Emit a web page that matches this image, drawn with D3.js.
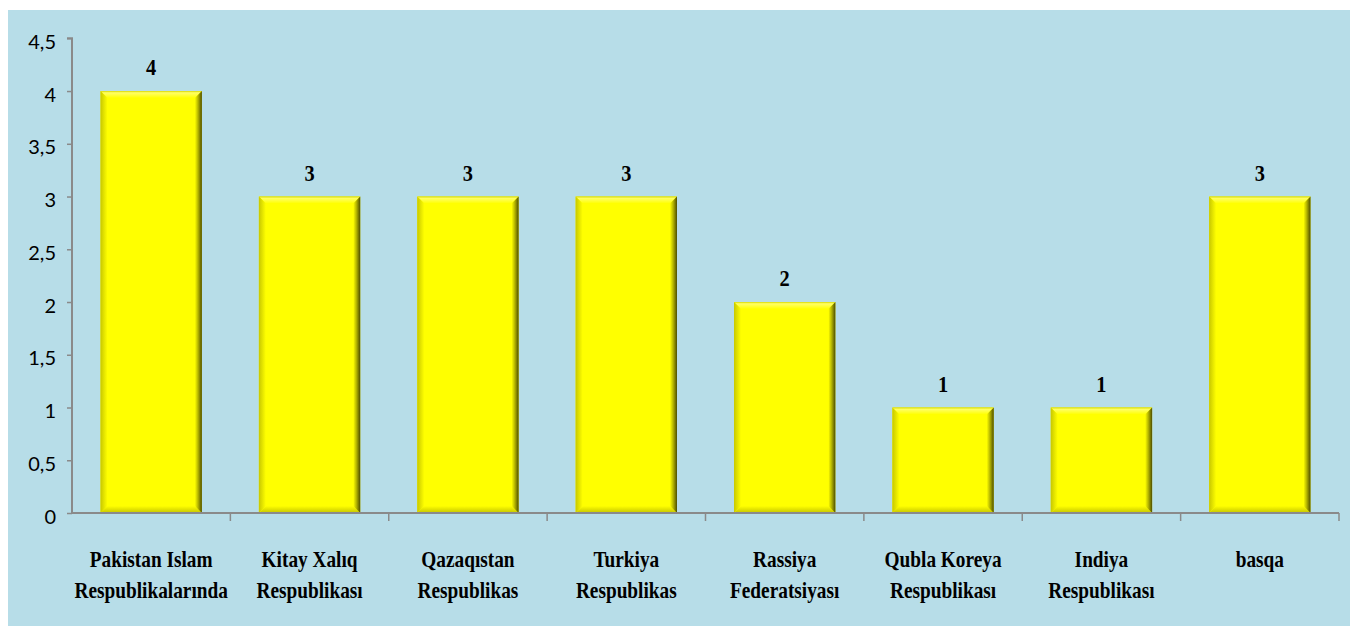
<!DOCTYPE html>
<html><head><meta charset="utf-8">
<script src="https://cdn.jsdelivr.net/npm/d3@7"></script>
<style>body{margin:0;background:#fff}</style></head>
<body><svg id="c" width="1350" height="626"></svg>
<script>
const categories = ["Pakistan Islam\nRespublikalarında","Kitay Xalıq\nRespublikası","Qazaqıstan\nRespublikas","Turkiya\nRespublikas","Rassiya\nFederatsiyası","Qubla Koreya\nRespublikası","Indiya\nRespublikası","basqa"];
const values = [4,3,3,3,2,1,1,3];
const yTicks = [0,0.5,1,1.5,2,2.5,3,3.5,4,4.5];
const yTickLabels = ["0","0,5","1","1,5","2","2,5","3","3,5","4","4,5"];

const svg = d3.select("#c");
svg.append("rect").attr("x",8).attr("y",10).attr("width",1342).attr("height",616).attr("fill","#b7dde8");

const defs = svg.append("defs");
function grad(id, x2, y2, stops){
  const g = defs.append("linearGradient").attr("id",id).attr("x1",0).attr("y1",0).attr("x2",x2).attr("y2",y2);
  stops.forEach(s=>g.append("stop").attr("offset",s[0]).attr("stop-color",s[1]));
}
grad("gTop",0,1,[[0,"#d9d900"],[0.25,"#ffff66"],[1,"#ffff00"]]);
grad("gRight",1,0,[[0,"#ffff00"],[0.45,"#b5b500"],[1,"#4d4d00"]]);
grad("gBottom",0,1,[[0,"#ffff00"],[1,"#c4c400"]]);
grad("gLeft",1,0,[[0,"#c8c800"],[1,"#ffff00"]]);

const x0 = 72, x1 = 1339, yBase = 513, yTop = 38.3;
const x = d3.scaleBand().domain(categories).range([x0,x1]).paddingInner(0.36).paddingOuter(0.18);
const y = d3.scaleLinear().domain([0,4.5]).range([yBase,yTop]);

// bars
const b = 7;
const bars = svg.append("g").selectAll("g").data(categories).join("g");
bars.each(function(d,i){
  const g = d3.select(this);
  const L = x(d), R = x(d)+x.bandwidth(), T = y(values[i]), B = y(0);
  g.append("rect").attr("x",L).attr("y",T).attr("width",R-L).attr("height",B-T).attr("fill","#ffff00");
  const poly = (pts, f)=>g.append("polygon").attr("points",pts.map(p=>p.join(",")).join(" ")).attr("fill",f);
  poly([[L,T],[R,T],[R-b,T+b],[L+b,T+b]],"url(#gTop)");
  poly([[L,B],[R,B],[R-b,B-b],[L+b,B-b]],"url(#gBottom)");
  poly([[L,T],[L+b,T+b],[L+b,B-b],[L,B]],"url(#gLeft)");
  poly([[R,T],[R,B],[R-b,B-b],[R-b,T+b]],"url(#gRight)");
  g.append("text").attr("transform",`translate(${L+(R-L)/2},${T-16}) scale(0.85,1)`)
    .attr("text-anchor","middle").attr("font-family","Liberation Serif").attr("font-weight","bold")
    .attr("font-size",24).attr("fill","#000").text(values[i]);
});

// y axis
const yAxis = d3.axisLeft(y).tickValues(yTicks).tickFormat((d,i)=>yTickLabels[i]).tickSize(5).tickPadding(11);
const ya = svg.append("g").attr("transform",`translate(${x0},0)`).call(yAxis);
ya.select(".domain").attr("stroke","#8a8a8a").attr("stroke-width",2).attr("d",`M-5,${yTop}H0V${yBase}`);
ya.selectAll(".tick line").attr("stroke","#8a8a8a").attr("stroke-width",1.5);
ya.selectAll(".tick text").attr("font-family","Lato").attr("font-size",20).attr("fill","#000").attr("dy","0.5em");

// x axis
const xa = svg.append("g");
xa.append("line").attr("x1",x0).attr("x2",x1).attr("y1",yBase).attr("y2",yBase).attr("stroke","#8a8a8a").attr("stroke-width",2);
categories.forEach(d=>{
  const tx = x(d)+x.bandwidth()+x.step()*x.paddingInner()/2;
  xa.append("line").attr("x1",tx).attr("x2",tx).attr("y1",yBase).attr("y2",yBase+8).attr("stroke","#8a8a8a").attr("stroke-width",1.5);
});
categories.forEach(d=>{
  const cx = x(d)+x.bandwidth()/2;
  d.split("\n").forEach((line,k)=>{
    svg.append("text").attr("transform",`translate(${cx},${567+k*31}) scale(0.84,1)`)
      .attr("text-anchor","middle").attr("font-family","Liberation Serif").attr("font-weight","bold")
      .attr("font-size",23).attr("fill","#000").text(line);
  });
});
</script></body></html>
